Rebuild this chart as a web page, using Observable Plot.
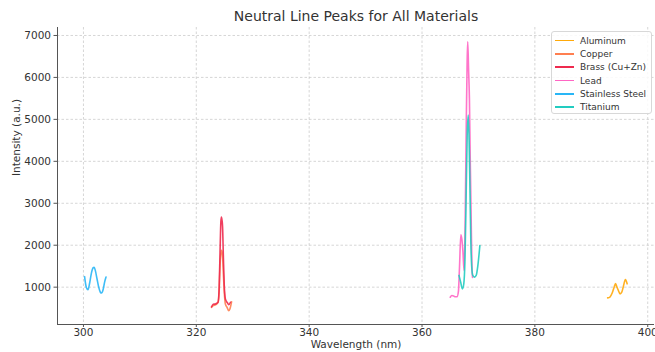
<!DOCTYPE html>
<html>
<head>
<meta charset="utf-8">
<script src="https://cdn.jsdelivr.net/npm/d3@7"></script>
<script src="https://cdn.jsdelivr.net/npm/@observablehq/plot@0.6"></script>
<style>
  html, body { margin: 0; padding: 0; background: #fff; }
  #wrap { position: relative; width: 655px; height: 352px; overflow: hidden; font-family: "DejaVu Sans", sans-serif; }
  #legend { position: absolute; left: 551px; top: 31px; width: 101px; height: 83px; box-sizing: border-box;
            border: 1px solid #d8d8d8; border-radius: 3px; background: rgba(255,255,255,0.85); }
  .row { position: absolute; left: 0; height: 12px; font-size: 9px; color: #333; line-height: 12px; }
  .row .ln { position: absolute; left: 3px; top: 5px; width: 19px; height: 1.6px; }
  .row .tx { position: absolute; left: 28px; top: 0; white-space: nowrap; }
</style>
</head>
<body>
<div id="wrap"><div id="legend"></div></div>
<script>
// ---- data ----
const materials = ["Aluminum", "Copper", "Brass (Cu+Zn)", "Lead", "Stainless Steel", "Titanium"];
const colors = ["#ffa90a", "#ff7f50", "#ee2a4e", "#ff66c4", "#29b6f6", "#22ccc0"];

const alWl  = [392.9, 393.3, 393.7, 394.05, 394.3, 394.55, 394.8, 395.1, 395.4, 395.65, 396.05, 396.35];
const alInt = [745, 765, 860, 1000, 1085, 1000, 920, 840, 880, 1000, 1180, 1080];

const cuWl  = [322.7, 323.0, 323.4, 323.85, 324.05, 324.2, 324.35, 324.45, 324.55, 324.65, 324.8, 324.95, 325.15, 325.45, 325.75, 325.95, 326.25];
const cuInt = [520, 560, 580, 640, 900, 1500, 1800, 1880, 1850, 1750, 1300, 900, 600, 520, 440, 480, 650];

const brWl  = [322.7, 323.0, 323.4, 323.85, 324.05, 324.2, 324.35, 324.45, 324.55, 324.65, 324.8, 324.95, 325.15, 325.5, 325.75, 326.05];
const brInt = [530, 590, 600, 640, 1000, 1800, 2550, 2670, 2600, 2450, 1700, 1050, 720, 630, 580, 640];

const pbWl  = [365.0, 365.3, 365.6, 365.9, 366.2, 366.45, 366.65, 366.88, 367.05, 367.25, 367.45, 367.65, 367.85, 368.0, 368.1, 368.25, 368.4, 368.55, 368.7, 368.85, 368.95];
const pbInt = [760, 800, 790, 770, 770, 900, 1500, 2250, 2150, 1850, 1400, 2600, 5000, 6400, 6850, 6200, 5500, 4000, 2700, 1500, 1230];

const ssWl  = [300.2, 300.5, 300.8, 301.1, 301.4, 301.7, 301.9, 302.1, 302.4, 302.7, 303.0, 303.2, 303.5, 303.75, 304.0];
const ssInt = [1250, 1000, 940, 1100, 1330, 1460, 1475, 1400, 1200, 1000, 880, 860, 950, 1120, 1240];

const tiWl  = [366.55, 366.85, 367.15, 367.4, 367.6, 367.8, 368.0, 368.2, 368.35, 368.5, 368.65, 368.8, 369.0, 369.3, 369.6, 369.9, 370.25];
const tiInt = [1280, 1120, 960, 1080, 1600, 3000, 4600, 5100, 4500, 3300, 2100, 1500, 1280, 1240, 1280, 1520, 1990];

const xTicks = [300, 320, 340, 360, 380, 400];
const yTicks = [1000, 2000, 3000, 4000, 5000, 6000, 7000];

const title = "Neutral Line Peaks for All Materials";
const xLabel = "Wavelength (nm)";
const yLabel = "Intensity (a.u.)";

// ---- table ----
const series = [[alWl, alInt], [cuWl, cuInt], [brWl, brInt], [pbWl, pbInt], [ssWl, ssInt], [tiWl, tiInt]];
const rows = [];
series.forEach(([w, v], i) => w.forEach((x, j) => rows.push({material: materials[i], wl: x, int: v[j]})));

const xDom = [295.4, 401.2];
const yDom = [110, 7190];

const chart = Plot.plot({
  width: 655, height: 352,
  marginLeft: 57, marginRight: 1, marginTop: 27, marginBottom: 28,
  style: {fontFamily: "DejaVu Sans, sans-serif", fontSize: "10.5px", color: "#333", background: "white", overflow: "visible"},
  x: {domain: xDom},
  y: {domain: yDom},
  color: {domain: materials, range: colors},
  marks: [
    Plot.gridX(xTicks, {stroke: "#c4c4c4", strokeOpacity: 1, strokeWidth: 0.7, strokeDasharray: "2.5,2"}),
    Plot.gridY(yTicks, {stroke: "#c4c4c4", strokeOpacity: 1, strokeWidth: 0.7, strokeDasharray: "2.5,2"}),
    Plot.axisX(xTicks, {tickSize: 3, tickPadding: 1.5, label: null, stroke: "#555", tickFormat: d => String(d), fill: "#333"}),
    Plot.axisY(yTicks, {tickSize: 3.5, tickPadding: 3, label: null, stroke: "#555", tickFormat: d => String(d), fill: "#333"}),
    Plot.ruleX([xDom[0]], {stroke: "#555", strokeWidth: 1}),
    Plot.ruleY([yDom[0]], {stroke: "#555", strokeWidth: 1}),
    Plot.line(rows, {x: "wl", y: "int", z: "material", stroke: "material", strokeWidth: 1.6, strokeOpacity: 0.9, curve: "monotone-x"}),
    Plot.text([title], {frameAnchor: "top", dy: -7, fontSize: 14, fill: "#333", lineAnchor: "bottom"}),
    Plot.text([xLabel], {frameAnchor: "bottom", dy: 23.5, fontSize: 10.5, fill: "#333"}),
    Plot.text([yLabel], {frameAnchor: "left", dx: -41, rotate: -90, fontSize: 10.5, fill: "#333"})
  ]
});
document.getElementById("wrap").prepend(chart);

// legend
const lg = document.getElementById("legend");
const rowTops = [2.7, 16, 29.3, 42.7, 56, 69.3];
materials.forEach((m, i) => {
  const r = document.createElement("div");
  r.className = "row";
  r.style.top = rowTops[i] + "px";
  const ln = document.createElement("div");
  ln.className = "ln";
  ln.style.backgroundColor = colors[i];
  const tx = document.createElement("div");
  tx.className = "tx";
  tx.textContent = m;
  r.appendChild(ln);
  r.appendChild(tx);
  lg.appendChild(r);
});
</script>
</body>
</html>
